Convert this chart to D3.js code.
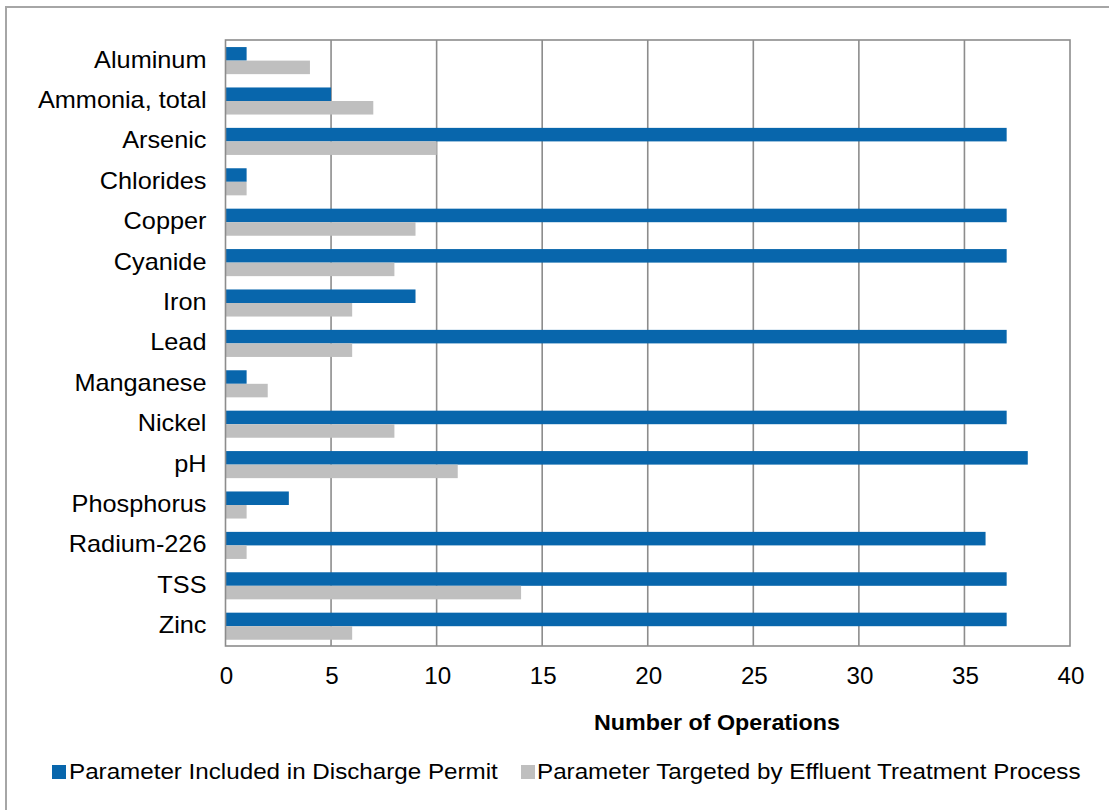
<!DOCTYPE html>
<html>
<head>
<meta charset="utf-8">
<script src="https://cdn.jsdelivr.net/npm/d3@7"></script>
<style>
  html, body { margin: 0; padding: 0; background: #fff; }
  text { font-family: "Liberation Sans", Arial, sans-serif; fill: #000; }
</style>
</head>
<body>
<svg id="chart" width="1109" height="810"></svg>
<script>
const categories = ["Aluminum", "Ammonia, total", "Arsenic", "Chlorides", "Copper", "Cyanide", "Iron", "Lead", "Manganese", "Nickel", "pH", "Phosphorus", "Radium-226", "TSS", "Zinc"];
const seriesNames = ["Parameter Included in Discharge Permit", "Parameter Targeted by Effluent Treatment Process"];
const permitValues = [1, 5, 37, 1, 37, 37, 9, 37, 1, 37, 38, 3, 36, 37, 37];
const treatmentValues = [4, 7, 10, 1, 9, 8, 6, 6, 2, 8, 11, 1, 1, 14, 6];
const xTicks = [0, 5, 10, 15, 20, 25, 30, 35, 40];
const axisTitle = "Number of Operations";
const seriesColors = ["#0866AC", "#BFBFBF"];

const svg = d3.select("#chart");
const L = 225.5, R = 1070, T = 40, B = 646;
const FONT = '"Liberation Sans", Arial, sans-serif';
const SX = 1.1;

// outer frame
svg.append("rect").attr("x", 6).attr("y", 7).attr("width", 1120).attr("height", 820)
  .attr("fill", "none").attr("stroke", "#A6A6A6").attr("stroke-width", 2);

const x = d3.scaleLinear().domain([0, 40]).range([L, R]);
const y = d3.scaleBand().domain(categories).range([T, B]).padding(0);
const inner = d3.scaleBand().domain(seriesNames).range([y.bandwidth() * 0.175, y.bandwidth() * 0.845]);

// gridlines
svg.append("g").selectAll("line").data(xTicks.filter(d => d > 0 && d < 40)).join("line")
  .attr("x1", d => x(d)).attr("x2", d => x(d)).attr("y1", T).attr("y2", B)
  .attr("stroke", "#8C8C8C").attr("stroke-width", 1.6);

// bars
const data = [];
categories.forEach((c, i) => {
  data.push({ c, s: seriesNames[0], v: permitValues[i], k: 0 });
  data.push({ c, s: seriesNames[1], v: treatmentValues[i], k: 1 });
});
svg.append("g").selectAll("rect").data(data).join("rect")
  .attr("x", x(0))
  .attr("y", d => y(d.c) + inner(d.s))
  .attr("width", d => x(d.v) - x(0))
  .attr("height", inner.bandwidth())
  .attr("fill", d => seriesColors[d.k]);

// plot border
svg.append("rect").attr("x", L).attr("y", T).attr("width", R - L).attr("height", B - T)
  .attr("fill", "none").attr("stroke", "#8C8C8C").attr("stroke-width", 1.6);

// x axis labels
const xAxis = d3.axisBottom(x).tickValues(xTicks).tickSize(0).tickPadding(22);
const gx = svg.append("g").attr("transform", `translate(0,${B})`).call(xAxis);
gx.select(".domain").remove();
gx.selectAll("text").style("font-size", "23px").style("font-family", FONT).attr("fill", "#000")
  .attr("transform", "translate(0.5,0) scale(1.05,1)");

// y axis labels
const yAxis = d3.axisLeft(y).tickSize(0).tickPadding(0);
const gy = svg.append("g").attr("transform", `translate(${L},0)`).call(yAxis);
gy.select(".domain").remove();
gy.selectAll("text").style("font-size", "23px").style("font-family", FONT).attr("fill", "#000")
  .attr("x", 0).attr("transform", `translate(-19,0) scale(${SX},1)`);

// axis title
svg.append("text").attr("transform", "translate(717,730) scale(1.06,1)").attr("text-anchor", "middle")
  .style("font-size", "22px").style("font-weight", "bold").text(axisTitle);

// legend
const legendItems = [
  { name: seriesNames[0], color: seriesColors[0], sx: 52, tx: 69 },
  { name: seriesNames[1], color: seriesColors[1], sx: 521, tx: 537 }
];
const lg = svg.append("g");
legendItems.forEach(it => {
  lg.append("rect").attr("x", it.sx).attr("y", 765).attr("width", 14).attr("height", 14).attr("fill", it.color);
  lg.append("text").attr("transform", `translate(${it.tx},779) scale(${SX},1)`).style("font-size", "22px")
    .text(it.name);
});
</script>
</body>
</html>
